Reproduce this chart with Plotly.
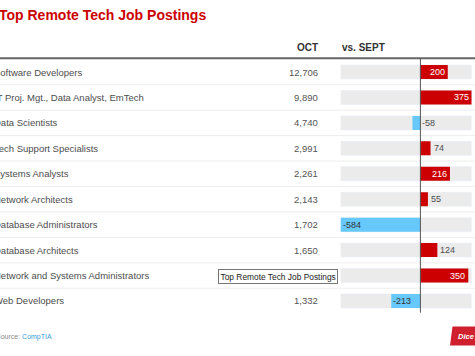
import plotly.graph_objects as go

# ---- data ----
title_text = "Top Remote Tech Job Postings"
categories = [
    "Software Developers",
    "IT Proj. Mgt., Data Analyst, EmTech",
    "Data Scientists",
    "Tech Support Specialists",
    "Systems Analysts",
    "Network Architects",
    "Database Administrators",
    "Database Architects",
    "Network and Systems Administrators",
    "Web Developers",
]
oct_postings = [12706, 9890, 4740, 2991, 2261, 2143, 1702, 1650, 1351, 1332]
change_vs_sept = [200, 375, -58, 74, 216, 55, -584, 124, 350, -213]
header_oct = "OCT"
header_change = "vs. SEPT"
source_label = "Source: "
source_name = "CompTIA"

# ---- styling / layout constants ----
W, H = 475, 356
RED = "#cc0000"
BLUE = "#66c8fb"
BG_BAR = "#ebebeb"
FONT = "Liberation Sans, Arial, sans-serif"

def px_x(x):
    return x / W

def px_y(y):
    return 1 - y / H

n = len(categories)
row_top, row_bot = 59.3, 313.7
vmin, vmax = min(change_vs_sept), max(change_vs_sept)

fig = go.Figure()

# background bars spanning the data extent
fig.add_trace(go.Bar(
    y=categories, x=[vmax - vmin] * n, base=[vmin] * n,
    orientation="h", marker_color=BG_BAR, width=0.55,
    hoverinfo="skip", showlegend=False,
))
# value bars
fig.add_trace(go.Bar(
    y=categories, x=change_vs_sept, orientation="h",
    marker_color=[RED if v >= 0 else BLUE for v in change_vs_sept],
    marker_line_width=0, width=0.55,
    hoverinfo="skip", showlegend=False,
))

annotations = []
# title
annotations.append(dict(
    text=f"<b>{title_text}</b>", x=px_x(-3), y=px_y(14.5), xref="paper", yref="paper",
    xanchor="left", yanchor="middle", showarrow=False,
    font=dict(family=FONT, size=14, color=RED),
))
# headers
annotations.append(dict(
    text=f"<b>{header_oct}</b>", x=px_x(320), y=px_y(47), xref="paper", yref="paper",
    xanchor="right", yanchor="middle", showarrow=False,
    font=dict(family=FONT, size=10, color="#333333"),
))
annotations.append(dict(
    text=f"<b>{header_change}</b>", x=px_x(340), y=px_y(47), xref="paper", yref="paper",
    xanchor="left", yanchor="middle", showarrow=False,
    font=dict(family=FONT, size=10, color="#333333"),
))

for cat, oc, ch in zip(categories, oct_postings, change_vs_sept):
    annotations.append(dict(
        text=cat, x=px_x(-8), y=cat, xref="paper", yref="y",
        xanchor="left", yanchor="middle", showarrow=False,
        font=dict(family=FONT, size=9.5, color="#4d4d4d"),
    ))
    annotations.append(dict(
        text=f"{oc:,}", x=px_x(320), y=cat, xref="paper", yref="y",
        xanchor="right", yanchor="middle", showarrow=False,
        font=dict(family=FONT, size=9.5, color="#555555"),
    ))
    label = f"{ch:,}"
    if ch >= 0:
        if ch >= 150:
            a = dict(x=ch, xanchor="right", xshift=-1, color="#ffffff")
        else:
            a = dict(x=ch, xanchor="left", xshift=1, color="#4d4d4d")
    else:
        if ch <= -150:
            a = dict(x=ch, xanchor="left", xshift=0, color="#333333")
        else:
            a = dict(x=0, xanchor="left", xshift=0, color="#4d4d4d")
    annotations.append(dict(
        text=label, x=a["x"], y=cat, xref="x", yref="y", xanchor=a["xanchor"],
        xshift=a["xshift"], yanchor="middle", showarrow=False,
        font=dict(family=FONT, size=9, color=a["color"]),
    ))

# source line
annotations.append(dict(
    text=f"<span style='color:#888888'>{source_label}</span><span style='color:#3a9ad9'>{source_name}</span>",
    x=px_x(-6), y=px_y(337), xref="paper", yref="paper",
    xanchor="left", yanchor="middle", showarrow=False,
    font=dict(family=FONT, size=7, color="#888888"),
))
# logo text
annotations.append(dict(
    text="<b><i>Dice</i></b>", x=px_x(466), y=px_y(336.5), xref="paper", yref="paper",
    xanchor="center", yanchor="middle", showarrow=False,
    font=dict(family=FONT, size=7.5, color="#ffffff"),
))
# browser tooltip seen in the screenshot
annotations.append(dict(
    text=title_text, x=px_x(218), y=px_y(276.5), xref="paper", yref="paper",
    xanchor="left", yanchor="middle", showarrow=False,
    bgcolor="#ffffff", bordercolor="#767676", borderwidth=1, borderpad=1.5,
    font=dict(family=FONT, size=8.4, color="#222222"),
))

shapes = []
# row separators
for i in range(n - 1):
    shapes.append(dict(type="line", xref="paper", yref="y", x0=0, x1=1,
                       y0=i + 0.5, y1=i + 0.5, line=dict(color="#eeeeee", width=1), layer="below"))
# header rule
shapes.append(dict(type="line", xref="paper", yref="paper", x0=0, x1=1,
                   y0=px_y(58.3), y1=px_y(58.3), line=dict(color="#666666", width=2)))
# zero line
shapes.append(dict(type="line", xref="x", yref="paper", x0=0, x1=0,
                   y0=px_y(312.7), y1=px_y(58), line=dict(color="#555555", width=1)))
# logo
shapes.append(dict(
    type="path", xref="paper", yref="paper",
    path=(f"M {px_x(452.5)} {px_y(326.5)} L {px_x(475)} {px_y(326.5)} "
          f"L {px_x(475)} {px_y(345.5)} L {px_x(450)} {px_y(345.5)} Z"),
    fillcolor="#d0202e", line=dict(width=0),
))

fig.update_layout(
    width=W, height=H,
    margin=dict(l=0, r=0, t=0, b=0),
    paper_bgcolor="#ffffff", plot_bgcolor="rgba(0,0,0,0)",
    barmode="overlay", showlegend=False,
    xaxis=dict(domain=[px_x(340.5), px_x(471.7)], range=[vmin, vmax],
               visible=False, fixedrange=True),
    yaxis=dict(domain=[px_y(row_bot), px_y(row_top)], type="category",
               range=[n - 0.5, -0.5], visible=False, fixedrange=True),
    annotations=annotations, shapes=shapes,
    font=dict(family=FONT),
)

fig.write_html(
    "out.html",
    config={"displayModeBar": False},
    post_script="document.body.style.margin='0';document.body.style.overflow='hidden';",
)
